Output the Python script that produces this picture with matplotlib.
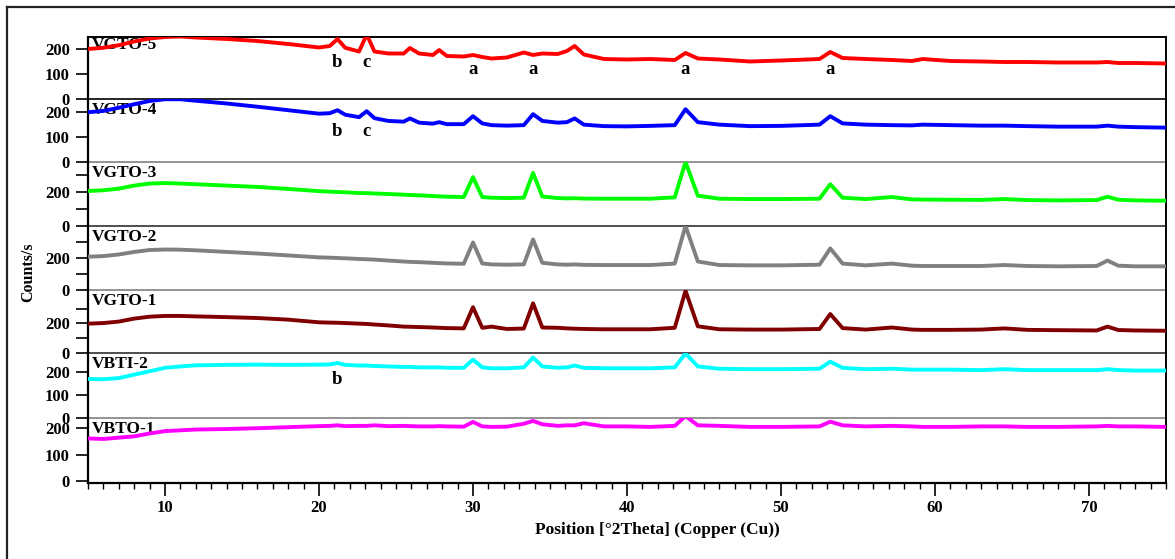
"""Stacked XRD patterns for the VGTO / VBTI / VBTO samples."""

import matplotlib

matplotlib.use("Agg")
import matplotlib.pyplot as plt
from matplotlib.lines import Line2D
from matplotlib.ticker import FixedLocator, MultipleLocator

plt.rcParams["font.family"] = ["Liberation Serif", "DejaVu Serif"]
plt.rcParams["font.weight"] = "bold"

# 2theta positions shared by all traces (deg)
two_theta = [5, 6, 7, 8, 9, 10, 11, 12, 14, 16, 18, 20, 20.7, 21.2, 21.7, 22.6, 23.1, 23.6,
             24.5, 25.5, 25.9, 26.5, 27.4, 27.8, 28.3, 29.4, 30.0, 30.6, 31.2, 32.2, 33.3,
             33.9, 34.5, 35.5, 36.1, 36.6, 37.2, 38.5, 40, 41.5, 43.1, 43.8, 44.6, 46, 48,
             50, 52.5, 53.2, 54.0, 55.5, 57.2, 58.5, 59.2, 61, 63, 64.5, 66, 68, 70.5, 71.2,
             71.9, 73, 75]

vgto5 = [200, 205, 215, 230, 242, 248, 250, 246, 240, 232, 220, 206, 212, 240, 205, 190, 258, 190,
         182, 182, 204, 182, 176, 196, 172, 170, 176, 168, 162, 166, 186, 176, 182, 180, 192, 212,
         178, 160, 158, 160, 156, 184, 162, 158, 150, 154, 160, 188, 164, 160, 156, 152, 160, 152,
         150, 148, 148, 146, 146, 148, 144, 144, 142]
vgto4 = [200, 205, 218, 232, 245, 252, 252, 246, 235, 222, 208, 194, 196, 208, 190, 180, 204, 176,
         165, 162, 175, 158, 154, 160, 152, 152, 184, 155, 148, 146, 148, 192, 165, 158, 160, 175,
         150, 144, 143, 145, 148, 212, 160, 150, 144, 145, 150, 184, 155, 150, 148, 147, 150, 148,
         146, 146, 144, 142, 142, 146, 142, 140, 138]
vgto3 = [208, 212, 222, 240, 252, 255, 252, 248, 240, 232, 220, 207, 204, 202, 200, 196, 195, 193,
         190, 186, 184, 182, 178, 176, 174, 172, 290, 172, 168, 166, 168, 315, 175, 166, 164, 165,
         163, 162, 162, 162, 170, 380, 180, 162, 160, 160, 162, 248, 168, 160, 172, 158, 157, 156,
         155, 160, 154, 152, 154, 174, 156, 152, 150]
vgto2 = [208, 212, 222, 238, 250, 253, 252, 248, 238, 228, 216, 204, 202, 200, 198, 194, 192, 190,
         184, 178, 176, 174, 170, 168, 166, 164, 297, 166, 160, 158, 160, 316, 170, 160, 158, 160,
         157, 156, 156, 156, 165, 400, 178, 156, 154, 154, 158, 260, 165, 154, 165, 152, 150, 150,
         150, 156, 150, 148, 150, 184, 152, 148, 148]
vgto1 = [198, 202, 212, 232, 245, 250, 250, 247, 242, 236, 225, 207, 205, 204, 202, 198, 196, 192,
         186, 178, 177, 175, 172, 170, 168, 166, 309, 170, 178, 162, 165, 335, 172, 170, 166, 164,
         162, 160, 160, 160, 170, 420, 180, 160, 158, 158, 162, 263, 168, 158, 172, 158, 156, 156,
         158, 166, 156, 154, 152, 178, 155, 152, 150]
vbti2 = [171, 170, 175, 190, 205, 220, 226, 231, 233, 234, 233, 234, 235, 241, 233, 230, 230, 228,
         226, 224, 224, 222, 222, 222, 220, 220, 256, 222, 218, 218, 222, 265, 226, 220, 222, 230,
         220, 218, 218, 218, 222, 283, 226, 216, 214, 214, 216, 247, 220, 214, 216, 212, 212, 212,
         210, 214, 210, 210, 210, 214, 210, 208, 208]
vbto1 = [162, 160, 165, 170, 181, 190, 193, 196, 198, 201, 205, 209, 210, 212, 209, 210, 210, 212,
         209, 210, 209, 208, 208, 209, 208, 207, 225, 208, 206, 207, 218, 229, 216, 210, 212, 212,
         220, 208, 208, 206, 210, 247, 212, 210, 206, 206, 208, 226, 212, 208, 210, 208, 206, 206,
         208, 208, 206, 206, 208, 210, 208, 208, 206]

samples = ["VGTO-5", "VGTO-4", "VGTO-3", "VGTO-2", "VGTO-1", "VBTI-2", "VBTO-1"]
series = [vgto5, vgto4, vgto3, vgto2, vgto1, vbti2, vbto1]
colors = ["#ff0000", "#0000ff", "#00ff00", "#808080", "#800000", "#00ffff", "#ff00ff"]
ylims = [(0, 248), (0, 253), (0, 380), (0, 400), (0, 425), (0, 285), (-8, 240)]
yticks = [[0, 100, 200], [0, 100, 200], [0, 100, 200, 300], [0, 100, 200, 300],
          [0, 100, 200, 300], [0, 100, 200], [0, 100, 200]]
ylabeled = [[0, 100, 200], [0, 100, 200], [0, 200], [0, 200], [0, 200], [0, 100, 200],
            [0, 100, 200]]
sep_colors = ["black", "#808080", "#303030", "#808080", "#303030", "#808080", "black"]

# phase marks: (panel index, 2theta, counts, letter)
marks = [(0, 21.2, 144, "b"), (0, 23.1, 144, "c"), (0, 30.0, 116, "a"), (0, 33.9, 116, "a"),
         (0, 43.8, 116, "a"), (0, 53.2, 116, "a"),
         (1, 21.2, 122, "b"), (1, 23.1, 122, "c"),
         (5, 21.2, 168, "b")]

W, H = 1175, 559
fig = plt.figure(figsize=(W / 100, H / 100), dpi=100)

# outer frame (open at right and bottom, as in the source)
fig.add_artist(Line2D([7 / W, 1.0], [1 - 7 / H] * 2, color="#222", lw=1.6))
fig.add_artist(Line2D([7 / W] * 2, [0, 1 - 7 / H], color="#222", lw=1.6))

left, right = 88 / W, 1166 / W
edges = [37, 99, 162, 226, 290, 353, 418, 483]

axes = []
for i, (name, ys, col) in enumerate(zip(samples, series, colors)):
    top, bot = edges[i], edges[i + 1]
    ax = fig.add_axes([left, 1 - bot / H, right - left, (bot - top) / H])
    ax.plot(two_theta, ys, color=col, lw=2.8, solid_joinstyle="round", zorder=3)
    ax.set_xlim(5, 75)
    ax.set_ylim(*ylims[i])

    ax.yaxis.set_major_locator(FixedLocator(yticks[i]))
    ax.set_yticklabels([str(t) if t in ylabeled[i] else "" for t in yticks[i]])
    ax.tick_params(axis="y", direction="out", length=9, width=1.2, pad=4, labelsize=12)
    for lab in ax.get_yticklabels():
        lab.set_fontweight("bold")

    ax.spines["left"].set_linewidth(1.6)
    ax.spines["right"].set_linewidth(1.4)
    ax.spines["bottom"].set_color(sep_colors[i])
    ax.spines["bottom"].set_linewidth(1.6 if i == 6 else 1.2)
    if i == 0:
        ax.spines["top"].set_linewidth(1.4)
    else:
        ax.spines["top"].set_visible(False)

    if i < 6:
        ax.tick_params(axis="x", which="both", bottom=False, labelbottom=False)
    else:
        ax.xaxis.set_major_locator(MultipleLocator(10))
        ax.xaxis.set_minor_locator(MultipleLocator(1))
        ax.tick_params(axis="x", which="major", direction="out", length=9, width=1.2, pad=3,
                       labelsize=12)
        ax.tick_params(axis="x", which="minor", direction="out", length=4, width=1.0)
        for lab in ax.get_xticklabels():
            lab.set_fontweight("bold")

    ax.annotate(name, xy=(0, 1), xycoords="axes fraction",
                xytext=(3, 0 if i == 0 else -2), textcoords="offset points",
                ha="left", va="top", fontsize=12.5, fontweight="bold", zorder=2)
    ax.patch.set_alpha(0)
    axes.append(ax)

for i, x, y, letter in marks:
    axes[i].text(x, y, letter, ha="center", va="center", fontsize=13.5, fontweight="bold")

fig.text(28 / W, 1 - 272 / H, "Counts/s", rotation=90, ha="center", va="center",
         fontsize=11.5, fontweight="bold")
fig.text(657 / W, 1 - 530 / H, "Position [°2Theta] (Copper (Cu))", ha="center", va="center",
         fontsize=12.5, fontweight="bold")

fig.savefig("out.png", dpi=100)
